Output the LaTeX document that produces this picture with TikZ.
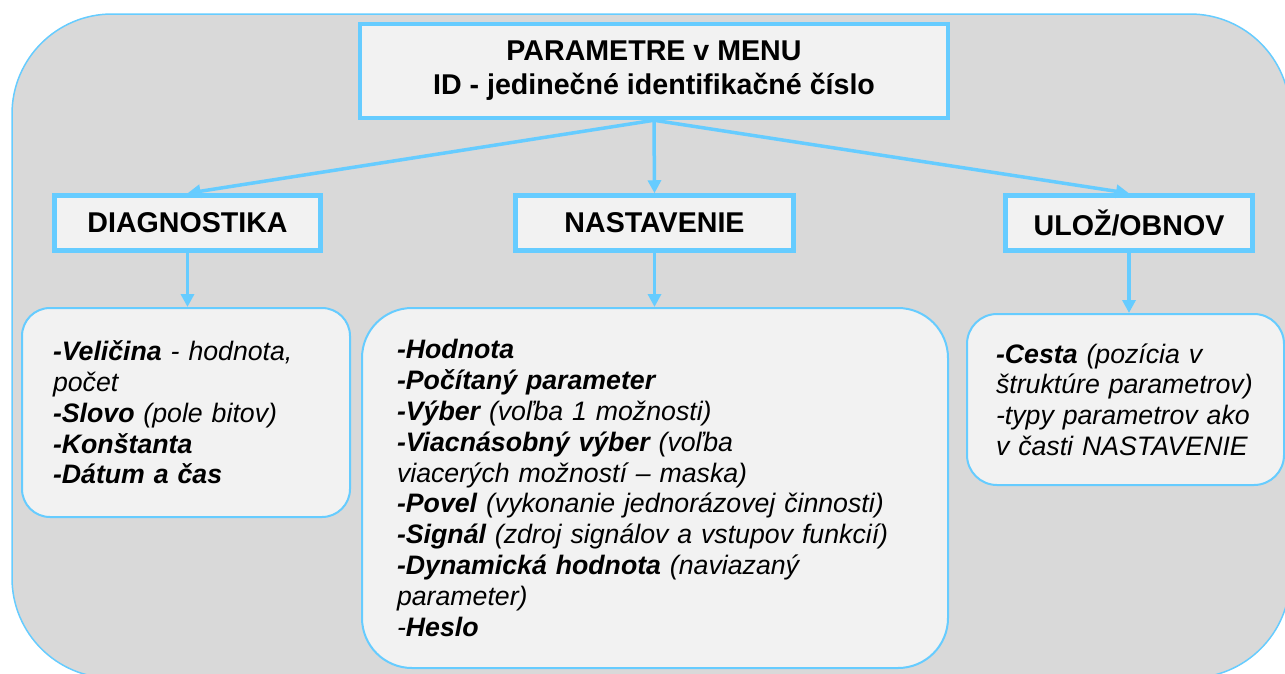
\documentclass[tikz,border=0pt]{standalone}
\usepackage{fontspec}
\setmainfont{Liberation Sans}
\usepackage{xcolor}
\usetikzlibrary{arrows.meta}
\definecolor{frameblue}{HTML}{66CCFF}
\definecolor{backgray}{HTML}{D9D9D9}
\definecolor{boxgray}{HTML}{F2F2F2}
\tikzset{
    headbox/.style = {draw = frameblue, fill = boxgray, line width = 4.5pt, align = center, inner sep = 0pt,
        font = \bfseries\fontsize{28.6}{34}\selectfont},
    listbox/.style = {draw = frameblue, fill = boxgray, line width = 2pt, align = left, inner ysep = 0pt,
        font = \itshape\fontsize{26.7}{30.8}\selectfont},
    link/.style = {frameblue, line width = 3.5pt, -{Triangle[length = 13pt, width = 13pt]}}
}

\begin{document}
\begin{tikzpicture}[x = 1pt, y = -1pt]
        \useasboundingbox (0,0) rectangle (1285,673);
        \draw[draw = frameblue, fill = backgray, line width = 1.5pt, rounded corners = 100pt] (12,14) rectangle (1290,678);
        \node[headbox, minimum width = 588pt, minimum height = 94pt] (menu) at (654,71) {PARAMETRE v MENU\\ID - jedinečné identifikačné číslo};
        \node[headbox, minimum width = 266pt, minimum height = 55pt] (diag) at (187.5,223) {DIAGNOSTIKA};
        \node[headbox, minimum width = 278pt, minimum height = 55pt] (nast) at (654.5,223) {NASTAVENIE};
        \node[headbox, minimum width = 247pt, minimum height = 55pt] (ulob) at (1129,223) {ULOŽ/OBNOV};
        \node[listbox, rounded corners = 28pt, minimum width = 328pt, minimum height = 209pt, inner xsep = 31pt, text width = 266pt] (veli) at (186,412.5)
            {\textbf{-Veličina} - hodnota,\\počet\\\textbf{-Slovo} (pole bitov)\\\textbf{-Konštanta}\\\textbf{-Dátum a čas}};
        \node[listbox, rounded corners = 50pt, minimum width = 586pt, minimum height = 360pt, inner xsep = 35pt, text width = 516pt] (hodn) at (655,488)
            {\textbf{-Hodnota}\\\textbf{-Počítaný parameter}\\\textbf{-Výber} (voľba 1 možnosti)\\\textbf{-Viacnásobný výber} (voľba\\viacerých možností – maska)\\\textbf{-Povel} (vykonanie jednorázovej činnosti)\\\textbf{-Signál} (zdroj signálov a vstupov funkcií)\\\textbf{-Dynamická hodnota} (naviazaný\\parameter)\\-\textbf{Heslo}};
        \node[listbox, rounded corners = 30pt, minimum width = 317pt, minimum height = 171pt, inner xsep = 29pt, text width = 259pt] (cest) at (1125.5,399.5)
            {\textbf{-Cesta} (pozícia v\\štruktúre parametrov)\\-typy parametrov ako\\v časti NASTAVENIE};
        \draw[link] (menu.south) -- (diag.north);
        \draw[link] (menu.south) -- (nast.north);
        \draw[link] (menu.south) -- (ulob.north);
        \draw[link] (diag.south) -- (diag.south |- veli.north);
        \draw[link] (nast.south) -- (nast.south |- hodn.north);
        \draw[link] (ulob.south) -- (ulob.south |- cest.north);
    \end{tikzpicture}
\end{document}
